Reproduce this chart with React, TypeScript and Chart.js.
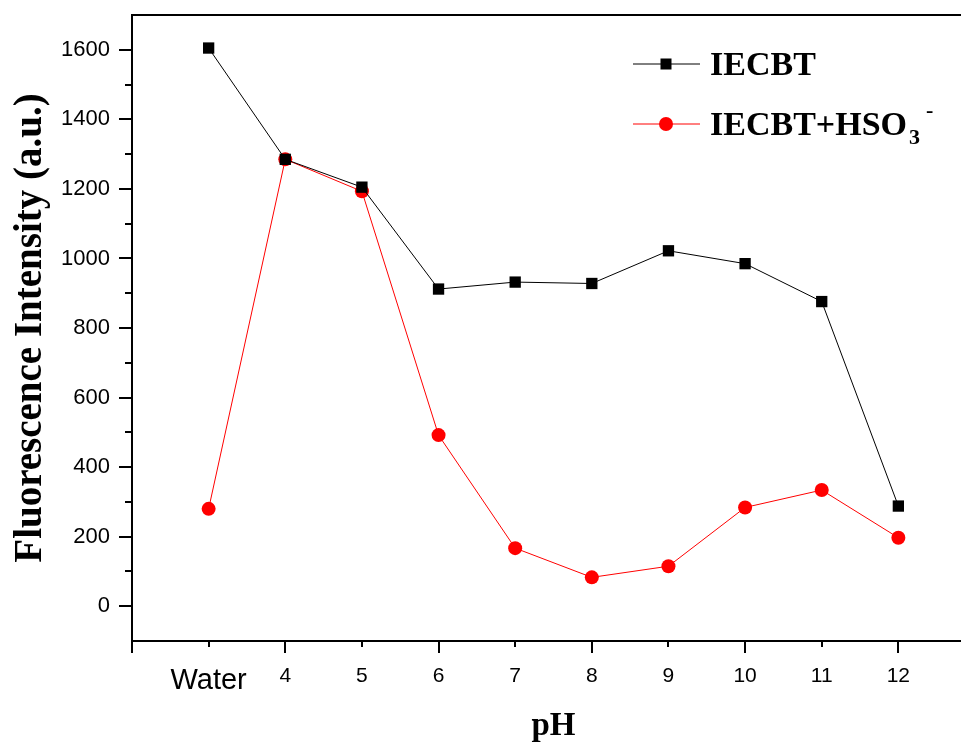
import React, { useEffect, useRef } from 'react';
import { Chart, registerables } from 'chart.js';

Chart.register(...registerables);

// ---- data ----
const categories: string[] = ['Water', '4', '5', '6', '7', '8', '9', '10', '11', '12'];
const xPositions: number[] = [3, 4, 5, 6, 7, 8, 9, 10, 11, 12];
const iecbt: number[] = [1605, 1285, 1205, 912, 932, 928, 1022, 985, 876, 288];
const iecbtHSO3: number[] = [280, 1285, 1193, 492, 167, 83, 115, 284, 334, 197];
const seriesNames: string[] = ['IECBT', 'IECBT+HSO'];
const yTickValues: number[] = [0, 200, 400, 600, 800, 1000, 1200, 1400, 1600];
const xMin = 2;
const xMax = 13;
const yMin = -100;
const yMax = 1700;

const CANVAS_W = 1000;
const CANVAS_H = 746;

const axesPlugin = {
  id: 'originAxes',
  afterDraw(chart: any) {
    const ctx = chart.ctx;
    const { left, right, top, bottom } = chart.chartArea;
    const xs = chart.scales.x;
    const ys = chart.scales.y;
    ctx.save();
    ctx.strokeStyle = '#000';
    ctx.lineWidth = 2;
    ctx.lineCap = 'square';
    ctx.beginPath();
    ctx.moveTo(left, top);
    ctx.lineTo(left, bottom);
    ctx.moveTo(left, bottom);
    ctx.lineTo(right, bottom);
    ctx.moveTo(left, top);
    ctx.lineTo(right, top);
    ctx.moveTo(right, top);
    ctx.lineTo(right, bottom);
    ctx.stroke();
    ctx.lineCap = 'butt';
    for (let v = yMin + 100; v < yMax; v += 100) {
      const y = Math.round(ys.getPixelForValue(v));
      const len = v % 200 === 0 ? 13 : 7;
      ctx.beginPath();
      ctx.moveTo(left, y);
      ctx.lineTo(left - len, y);
      ctx.stroke();
    }
    for (let v = xMin; v <= xMax; v += 1) {
      const x = Math.round(xs.getPixelForValue(v));
      const len = v % 2 === 0 ? 12 : 6;
      ctx.beginPath();
      ctx.moveTo(x, bottom);
      ctx.lineTo(x, bottom + len);
      ctx.stroke();
    }
    ctx.restore();

    // legend
    const items = [
      { color: '#000000', shape: 'rect', name: seriesNames[0], y: 64 },
      { color: '#ff0000', shape: 'circle', name: seriesNames[1], y: 124 },
    ];
    ctx.save();
    items.forEach((it) => {
      ctx.strokeStyle = it.color;
      ctx.fillStyle = it.color;
      ctx.lineWidth = 1;
      ctx.beginPath();
      ctx.moveTo(633, it.y);
      ctx.lineTo(700, it.y);
      ctx.stroke();
      if (it.shape === 'rect') {
        ctx.fillRect(666 - 5.5, it.y - 5.5, 11, 11);
      } else {
        ctx.beginPath();
        ctx.arc(666, it.y, 7, 0, Math.PI * 2);
        ctx.fill();
      }
      ctx.fillStyle = '#000';
      ctx.font = 'bold 34px "Liberation Serif", "Times New Roman", serif';
      ctx.textBaseline = 'alphabetic';
      ctx.textAlign = 'left';
      ctx.fillText(it.name, 710, it.y + 11);
      if (it.shape === 'circle') {
        const w = ctx.measureText(it.name).width;
        ctx.font = 'bold 22px "Liberation Serif", "Times New Roman", serif';
        ctx.fillText('3', 710 + w + 2, it.y + 20);
        ctx.fillText('-', 710 + w + 19, it.y - 7);
      }
    });
    ctx.restore();
  },
};

export default function App() {
  const ref = useRef<HTMLCanvasElement | null>(null);
  useEffect(() => {
    if (!ref.current) return;
    const chart = new Chart(ref.current, {
      type: 'line',
      data: {
        datasets: [
          {
            label: seriesNames[0],
            data: xPositions.map((x, i) => ({ x, y: iecbt[i] })),
            borderColor: '#000000',
            backgroundColor: '#000000',
            borderWidth: 1,
            pointStyle: 'rect',
            pointRadius: 8,
            pointBorderWidth: 0,
            tension: 0,
          },
          {
            label: seriesNames[1] + '3-',
            data: xPositions.map((x, i) => ({ x, y: iecbtHSO3[i] })),
            borderColor: '#ff0000',
            backgroundColor: '#ff0000',
            borderWidth: 1,
            pointStyle: 'circle',
            pointRadius: 7,
            pointBorderWidth: 0,
            tension: 0,
          },
        ],
      },
      options: {
        responsive: false,
        animation: false,
        devicePixelRatio: 1,
        layout: { padding: { top: 15, right: CANVAS_W - 975, left: 0, bottom: 0 } },
        plugins: { legend: { display: false }, tooltip: { enabled: false } },
        scales: {
          x: {
            type: 'linear',
            min: xMin,
            max: xMax,
            grid: { display: false, drawTicks: false },
            border: { display: false },
            afterFit: (s: any) => {
              s.height = CANVAS_H - 641;
              s.paddingLeft = 0;
              s.paddingRight = 0;
            },
            afterBuildTicks: (s: any) => {
              s.ticks = xPositions.map((v) => ({ value: v }));
            },
            ticks: {
              autoSkip: false,
              maxRotation: 0,
              padding: 23,
              color: '#000',
              font: (c: any) =>
                c.tick && c.tick.value === 3
                  ? { family: '"Liberation Sans", Arial, sans-serif', size: 29 }
                  : { family: '"Liberation Sans", Arial, sans-serif', size: 21 },
              callback: (v: any) => {
                const i = xPositions.indexOf(Number(v));
                return i >= 0 ? categories[i] : '';
              },
            },
            title: {
              display: true,
              text: 'pH',
              color: '#000',
              font: { family: '"Liberation Serif", "Times New Roman", serif', size: 33, weight: 'bold' },
              padding: { top: 9, bottom: 0 },
            },
          },
          y: {
            type: 'linear',
            min: yMin,
            max: yMax,
            grid: { display: false, drawTicks: false },
            border: { display: false },
            afterFit: (s: any) => {
              s.width = 132;
              s.paddingTop = 0;
              s.paddingBottom = 0;
            },
            afterBuildTicks: (s: any) => {
              s.ticks = yTickValues.map((v) => ({ value: v }));
            },
            ticks: {
              padding: 22,
              color: '#000',
              font: { family: '"Liberation Sans", Arial, sans-serif', size: 22 },
              callback: (v: any) => String(v),
            },
            title: {
              display: true,
              text: 'Fluorescence Intensity (a.u.)',
              color: '#000',
              font: { family: '"Liberation Serif", "Times New Roman", serif', size: 39, weight: 'bold' },
              padding: { top: 8, bottom: 0 },
            },
          },
        },
      },
      plugins: [axesPlugin],
    } as any);
    return () => chart.destroy();
  }, []);
  return (
    <div style={{ position: 'fixed', left: 0, top: 0, width: 961, height: 746, overflow: 'hidden', background: '#fff' }}>
      <canvas ref={ref} width={CANVAS_W} height={CANVAS_H} style={{ width: CANVAS_W, height: CANVAS_H, display: 'block' }} />
    </div>
  );
}
